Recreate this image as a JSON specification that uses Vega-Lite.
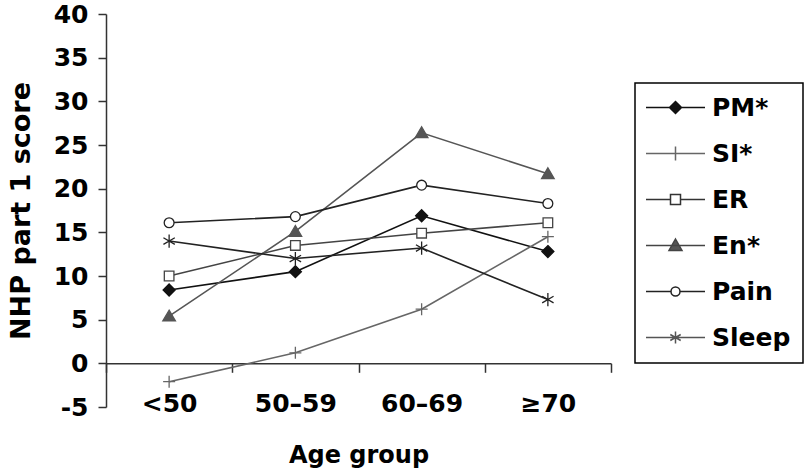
{
  "$schema": "https://vega.github.io/schema/vega-lite/v6.json",
  "width": 505,
  "height": 393,
  "autosize": "none",
  "padding": {"left": 106, "top": 14, "right": 199, "bottom": 66},
  "background": "white",
  "config": {
    "view": {"stroke": null},
    "font": "DejaVu Sans",
    "legend": {
      "orient": "none",
      "legendX": 529,
      "legendY": 69,
      "title": null,
      "labelFont": "DejaVu Sans",
      "labelFontWeight": "bold",
      "labelFontSize": 25,
      "labelColor": "black",
      "strokeColor": "black",
      "strokeWidth": 1.5,
      "padding": 12,
      "rowPadding": 20,
      "symbolSize": 400,
      "symbolStrokeWidth": 1.5,
      "symbolOpacity": 1,
      "symbolOffset": 16,
      "labelOffset": 24
    }
  },
  "data": {
    "values": [
      {"age": "<50", "series": "PM*", "value": 8.4},
      {"age": "50–59", "series": "PM*", "value": 10.5},
      {"age": "60–69", "series": "PM*", "value": 16.9},
      {"age": "≥70", "series": "PM*", "value": 12.8},
      {"age": "<50", "series": "SI*", "value": -2.1},
      {"age": "50–59", "series": "SI*", "value": 1.2},
      {"age": "60–69", "series": "SI*", "value": 6.2},
      {"age": "≥70", "series": "SI*", "value": 14.5},
      {"age": "<50", "series": "ER", "value": 10.0},
      {"age": "50–59", "series": "ER", "value": 13.5},
      {"age": "60–69", "series": "ER", "value": 14.9},
      {"age": "≥70", "series": "ER", "value": 16.1},
      {"age": "<50", "series": "En*", "value": 5.4},
      {"age": "50–59", "series": "En*", "value": 15.1},
      {"age": "60–69", "series": "En*", "value": 26.4},
      {"age": "≥70", "series": "En*", "value": 21.7},
      {"age": "<50", "series": "Pain", "value": 16.1},
      {"age": "50–59", "series": "Pain", "value": 16.8},
      {"age": "60–69", "series": "Pain", "value": 20.4},
      {"age": "≥70", "series": "Pain", "value": 18.3},
      {"age": "<50", "series": "Sleep", "value": 14.0},
      {"age": "50–59", "series": "Sleep", "value": 12.0},
      {"age": "60–69", "series": "Sleep", "value": 13.2},
      {"age": "≥70", "series": "Sleep", "value": 7.3}
    ]
  },
  "encoding": {
    "x": {
      "field": "age",
      "type": "nominal",
      "sort": ["<50", "50–59", "60–69", "≥70"],
      "scale": {"type": "band", "paddingInner": 0, "paddingOuter": 0},
      "axis": {
        "title": "Age group",
        "offset": -43.7,
        "labelAngle": 0,
        "domainColor": "#333",
        "domainWidth": 1.5,
        "ticks": true,
        "tickBand": "extent",
        "tickSize": 9,
        "tickWidth": 1.5,
        "tickColor": "#333",
        "labelPadding": 19,
        "labelFont": "DejaVu Sans",
        "labelFontWeight": "bold",
        "labelFontSize": 25,
        "labelColor": "black",
        "titleFont": "DejaVu Sans",
        "titleFontWeight": "bold",
        "titleFontSize": 24,
        "titleColor": "black",
        "titlePadding": 27,
        "grid": false
      }
    },
    "y": {
      "field": "value",
      "type": "quantitative",
      "scale": {"domain": [-5, 40], "nice": false, "zero": false},
      "axis": {
        "title": "NHP part 1 score",
        "values": [-5, 0, 5, 10, 15, 20, 25, 30, 35, 40],
        "labelExpr": "replace(datum.label, '−', '-')",
        "grid": false,
        "domainColor": "#333",
        "domainWidth": 1.5,
        "tickColor": "#333",
        "tickSize": 8,
        "tickWidth": 1.5,
        "labelPadding": 10,
        "labelFont": "DejaVu Sans",
        "labelFontWeight": "bold",
        "labelFontSize": 25,
        "labelColor": "black",
        "labelOverlap": false,
        "titleFont": "DejaVu Sans",
        "titleFontWeight": "bold",
        "titleFontSize": 27,
        "titleColor": "black",
        "titlePadding": 18
      }
    }
  },
  "layer": [
    {
      "mark": {"type": "line", "strokeWidth": 1.6},
      "encoding": {
        "stroke": {
          "field": "series",
          "type": "nominal",
          "scale": {"domain": ["PM*", "SI*", "ER", "En*", "Pain", "Sleep"], "range": ["#111111", "#666666", "#444444", "#555555", "#222222", "#222222"]},
          "legend": null
        }
      }
    },
    {
      "mark": {"type": "point", "filled": true, "size": 144, "strokeWidth": 1.3, "opacity": 1},
      "encoding": {
        "shape": {
          "field": "series",
          "type": "nominal",
          "scale": {"domain": ["PM*", "SI*", "ER", "En*", "Pain", "Sleep"], "range": [
            "M0,-1L1,0L0,1L-1,0Z",
            "M-1,0H1M0,-1V1",
            "M-0.8,-0.8H0.8V0.8H-0.8Z",
            "M0,-1L1.05,0.8L-1.05,0.8Z",
            "M-0.82,0A0.82,0.82 0 1,0 0.82,0A0.82,0.82 0 1,0 -0.82,0Z",
            "M0,-1.1V1.1M-0.95,-0.55L0.95,0.55M-0.95,0.55L0.95,-0.55"
          ]},
          "legend": null
        },
        "fill": {
          "field": "series",
          "type": "nominal",
          "scale": {"domain": ["PM*", "SI*", "ER", "En*", "Pain", "Sleep"], "range": ["#111111", "transparent", "white", "#555555", "white", "transparent"]},
          "legend": null
        },
        "stroke": {
          "field": "series",
          "type": "nominal",
          "scale": {"domain": ["PM*", "SI*", "ER", "En*", "Pain", "Sleep"], "range": ["#111111", "#666666", "#444444", "#555555", "#222222", "#222222"]},
          "legend": null
        }
      }
    },
    {
      "transform": [{"filter": "datum.value > 1000"}],
      "mark": {"type": "point", "filled": true, "strokeWidth": 1.5, "opacity": 1},
      "encoding": {
        "shape": {
          "field": "series",
          "type": "nominal",
          "scale": {"domain": ["PM*", "SI*", "ER", "En*", "Pain", "Sleep"], "range": [
            "M-2.95,0H2.95M0,-0.6L0.6,0L0,0.6L-0.6,0Z",
            "M-2.95,0H2.95M0,-0.7V0.7",
            "M-2.95,0H-0.5M0.5,0H2.95M-0.5,-0.5H0.5V0.5H-0.5Z",
            "M-2.95,0H2.95M0,-0.65L0.65,0.5L-0.65,0.5Z",
            "M-2.95,0H-0.45M0.45,0H2.95M-0.45,0A0.45,0.45 0 1,0 0.45,0A0.45,0.45 0 1,0 -0.45,0Z",
            "M-2.95,0H2.95M0,-0.6V0.6M-0.52,-0.3L0.52,0.3M-0.52,0.3L0.52,-0.3"
          ]},
          "legend": {}
        },
        "fill": {
          "field": "series",
          "type": "nominal",
          "scale": {"domain": ["PM*", "SI*", "ER", "En*", "Pain", "Sleep"], "range": ["#111111", "transparent", "white", "#555555", "white", "transparent"]},
          "legend": {}
        },
        "stroke": {
          "field": "series",
          "type": "nominal",
          "scale": {"domain": ["PM*", "SI*", "ER", "En*", "Pain", "Sleep"], "range": ["#111111", "#666666", "#333333", "#444444", "#222222", "#555555"]},
          "legend": {}
        }
      }
    }
  ],
  "resolve": {"scale": {"shape": "independent", "fill": "independent", "stroke": "independent"}}
}
